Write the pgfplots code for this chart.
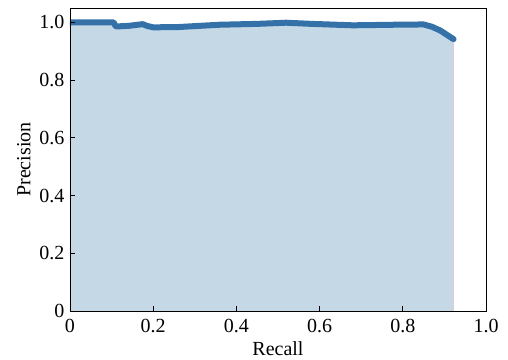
\documentclass[border=0pt]{standalone}
\usepackage{fontspec}
\setmainfont{Liberation Serif}
\usepackage{pgfplots}
\pgfplotsset{compat=1.18}
\definecolor{pline}{RGB}{52,113,168}
\definecolor{pfill}{RGB}{197,216,230}
\definecolor{pedge}{RGB}{225,200,215}
\begin{document}
\begin{tikzpicture}
\begin{axis}[
  scale only axis,
  width=416bp, height=303bp,
  xmin=0, xmax=1, ymin=0, ymax=1.05,
  xtick={0,0.2,0.4,0.6,0.8,1.0},
  xticklabels={0,0.2,0.4,0.6,0.8,1.0},
  ytick={0,0.2,0.4,0.6,0.8,1.0},
  yticklabels={0,0.2,0.4,0.6,0.8,1.0},
  axis on top,
  tick align=inside,
  xtick pos=bottom, ytick pos=left,
  major tick length=5bp,
  tick style={black, line width=0.8pt},
  axis line style={line width=0.8pt},
  ticklabel style={font=\fontsize{20bp}{23bp}\selectfont},
  xticklabel style={yshift=-5bp},
  yticklabel style={xshift=-2bp},
  label style={font=\fontsize{20bp}{23bp}\selectfont},
  /pgf/number format/assume math mode=true,
  xlabel={Recall}, ylabel={Precision},
  xlabel style={yshift=-2bp},
  ylabel style={yshift=2bp},
  clip=true,
]
\addplot[fill=pfill, draw=none] coordinates {
(0,1.0) (0.105,1.0) (0.11,0.986) (0.14,0.988) (0.175,0.994) (0.185,0.988) (0.2,0.983) (0.26,0.984) (0.36,0.992) (0.45,0.995) (0.52,0.999) (0.58,0.995) (0.68,0.99) (0.78,0.992) (0.85,0.993) (0.87,0.985) (0.89,0.972) (0.905,0.958) (0.922,0.942)
} \closedcycle;
\addplot[pedge, line width=1pt] coordinates {(0.922,0) (0.922,0.942)};
\addplot[pline, line width=6bp, line join=round, line cap=round] coordinates {
(0,1.0) (0.105,1.0) (0.11,0.986) (0.14,0.988) (0.175,0.994) (0.185,0.988) (0.2,0.983) (0.26,0.984) (0.36,0.992) (0.45,0.995) (0.52,0.999) (0.58,0.995) (0.68,0.99) (0.78,0.992) (0.85,0.993) (0.87,0.985) (0.89,0.972) (0.905,0.958) (0.922,0.942)
};
\end{axis}
\pgfresetboundingbox
\path ([xshift=-70bp,yshift=-49bp]current axis.south west) rectangle ([xshift=22bp,yshift=8bp]current axis.north east);
\end{tikzpicture}
\end{document}
